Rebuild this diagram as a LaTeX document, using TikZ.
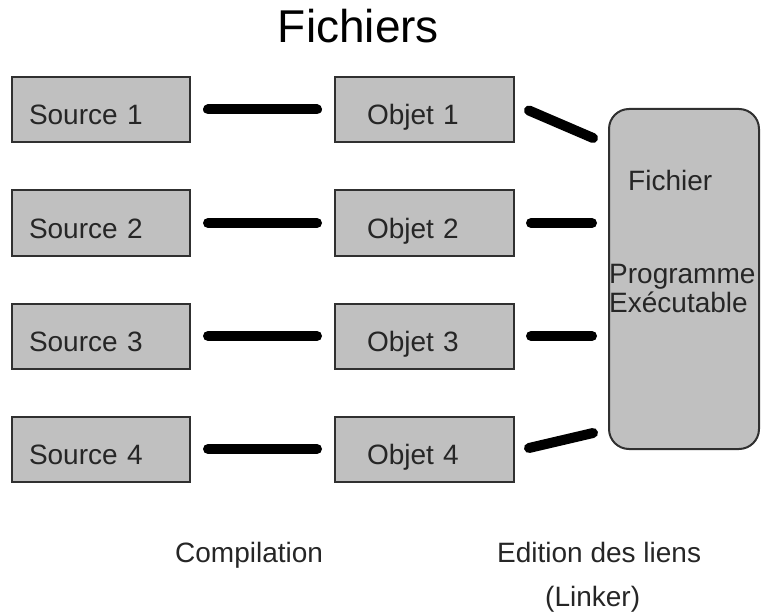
\documentclass[tikz,border=0pt]{standalone}
\usepackage{fontspec}
\setmainfont{Liberation Sans}
\usetikzlibrary{calc}
\definecolor{boxfill}{HTML}{C0C0C0}
\definecolor{boxline}{HTML}{303030}
\definecolor{txt}{HTML}{262626}
\begin{document}
\begin{tikzpicture}[x=1pt,y=-1pt,
  filebox/.style={draw=boxline, line width=2pt, fill=boxfill, minimum height=65pt,
    text height=31pt, text depth=0pt, align=left, text=txt,
    font=\fontsize{28pt}{32pt}\selectfont},
  srcbox/.style={filebox, minimum width=178pt, text width=144pt, inner xsep=17pt},
  objbox/.style={filebox, minimum width=179pt, text width=115pt, inner xsep=32pt},
  conn/.style={line width=10pt, line cap=round, black},
  lbl/.style={text=txt, inner sep=0pt, anchor=base west, font=\fontsize{28pt}{30pt}\selectfont},
]
\useasboundingbox (0,0) rectangle (761,615);

% title
\node[text=black, inner sep=0pt, anchor=base, font=\fontsize{46pt}{50pt}\selectfont] (title) at (358.5,43) {Fichiers};

% sources and objects
\node[srcbox] (s1) at (101,109.5) {Source 1};
\node[srcbox] (s2) at (101,223) {Source 2};
\node[srcbox] (s3) at (101,336) {Source 3};
\node[srcbox] (s4) at (101,449) {Source 4};
\node[objbox] (o1) at (424.5,109.5) {Objet 1};
\node[objbox] (o2) at (424.5,223) {Objet 2};
\node[objbox] (o3) at (424.5,336) {Objet 3};
\node[objbox] (o4) at (424.5,449) {Objet 4};

% executable file
\node[draw=boxline, line width=2pt, fill=boxfill, rounded corners=20pt,
  minimum width=150pt, minimum height=340pt, inner sep=0pt] (ex) at (684,279) {};
\node[lbl] (exa) at (628,190) {Fichier};
\node[lbl] (exb) at (609,283) {Programme};
\node[lbl] (exc) at (609,312) {Exécutable};

% compilation connectors
\foreach \i in {1,2,3,4}{
  \draw[conn, shorten <=17pt, shorten >=17pt] (s\i.east) -- (o\i.west);
}
% link connectors
\draw[conn] ([xshift=14pt,yshift=-1pt]o1.east) -- ([xshift=-15pt,yshift=-30pt]ex.north west);
\draw[conn] ([xshift=16pt]o2.east) -- ([xshift=-16pt]o2.east -| ex.west);
\draw[conn] ([xshift=16pt]o3.east) -- ([xshift=-16pt]o3.east -| ex.west);
\draw[conn] ([xshift=14pt,yshift=1pt]o4.east) -- ([xshift=-15pt,yshift=17pt]ex.south west);

% bottom labels
\node[lbl] (comp) at (175,562) {Compilation};
\node[lbl] (edit) at (497,562) {Edition des liens};
\node[lbl] (link) at (545,606) {(Linker)};
\end{tikzpicture}
\end{document}
